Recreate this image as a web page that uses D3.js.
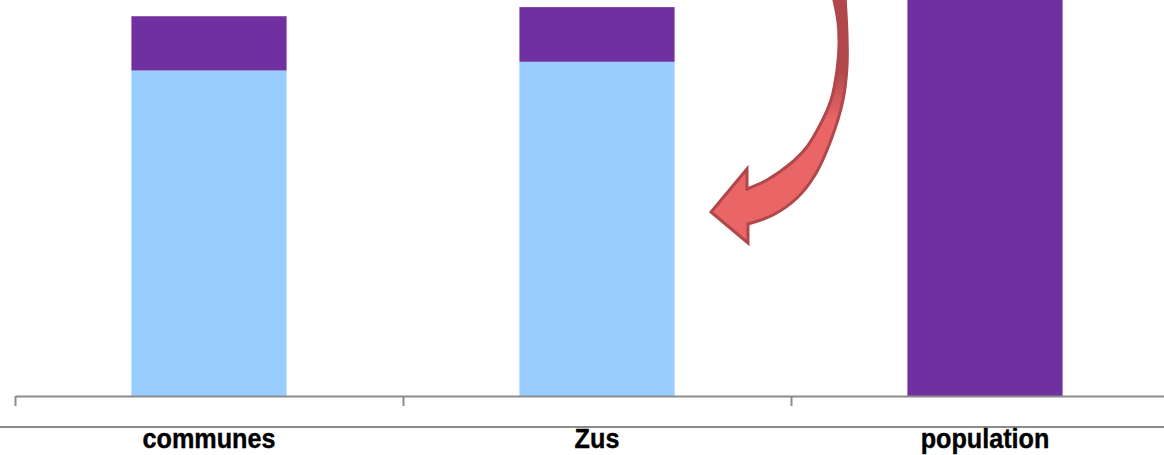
<!DOCTYPE html>
<html>
<head>
<meta charset="utf-8">
<script src="https://cdn.jsdelivr.net/npm/d3@7"></script>
<style>
  html, body { margin: 0; padding: 0; background: #fff; }
  svg { display: block; }
</style>
</head>
<body>
<svg id="chart" width="1164" height="455"></svg>
<script>
// ---- data ----
const categories = ["communes", "Zus", "population"];
const lightSeries = [82.2, 84.4, 0];
const purpleSeries = [13.7, 13.8, 101];
const seriesNames = ["light", "purple"];

// ---- layout ----
const W = 1164, H = 455;
const axisY = 396;
const svg = d3.select("#chart");

const x = d3.scaleBand().domain(categories).range([15, 1179]).paddingInner(0.6).paddingOuter(0.3);
const y = d3.scaleLinear().domain([0, 100]).range([axisY, 0]);
const color = d3.scaleOrdinal().domain(seriesNames).range(["#99ccff", "#7030a0"]);

const rows = categories.map((c, i) => ({ cat: c, light: lightSeries[i], purple: purpleSeries[i] }));
const stacked = d3.stack().keys(seriesNames)(rows);

svg.append("g").selectAll("g").data(stacked).join("g")
  .attr("fill", d => color(d.key))
  .selectAll("rect").data(d => d).join("rect")
  .attr("x", d => x(d.data.cat))
  .attr("width", x.bandwidth())
  .attr("y", d => y(d[1]))
  .attr("height", d => Math.max(0, y(d[0]) - y(d[1])));

// axis with ticks at category boundaries
const bx = d3.scaleLinear().domain([0, 3]).range([15, 1179]);
const axis = svg.append("g").attr("transform", `translate(0,${axisY})`)
  .call(d3.axisBottom(bx).tickValues([0, 1, 2, 3]).tickSize(10).tickSizeOuter(0).tickFormat(""));
axis.selectAll("path, line").attr("stroke", "#8c8c8c").attr("stroke-width", 2);

// lower rule
svg.append("line").attr("x1", 0).attr("x2", W).attr("y1", 427).attr("y2", 427)
  .attr("stroke", "#8c8c8c").attr("stroke-width", 2);

// category labels
svg.append("g").selectAll("text").data(categories).join("text")
  .attr("transform", d => `translate(${x(d) + x.bandwidth() / 2},448) scale(0.9,1)`)
  .attr("text-anchor", "middle")
  .attr("font-family", "Liberation Sans, Arial, sans-serif")
  .attr("font-weight", "bold")
  .attr("font-size", 28)
  .attr("fill", "#000")
  .attr("stroke", "#000").attr("stroke-width", 0.4)
  .text(d => d);

// curved arrow annotation
const defs = svg.append("defs");
const grad = defs.append("linearGradient").attr("id", "arrowGrad")
  .attr("gradientUnits", "userSpaceOnUse").attr("x1", 0).attr("y1", 70).attr("x2", 0).attr("y2", 120);
grad.append("stop").attr("offset", 0).attr("stop-color", "#b0484b");
grad.append("stop").attr("offset", 1).attr("stop-color", "#e96566");

const inner = [[833,-4],[838,22],[839,45],[837,70],[831,100],[820,125],[806,148],[790,164],[767,180],[747,189]];
const head = [[747,169],[711,212],[748,243],[748,224]];
const outer = [[773,215],[797,198],[815,175],[831,140],[843,100],[847,67],[847,35],[845,-4]];
const curve = d3.line().curve(d3.curveCatmullRom.alpha(0.5));
const p1 = curve(inner);
const p2 = curve([[748,224]].concat(outer));
const arrowPath = p1 + head.map(p => "L" + p[0] + "," + p[1]).join("") + p2.replace(/^M[^C]*/, "") + "Z";
svg.append("path").attr("d", arrowPath)
  .attr("fill", "url(#arrowGrad)").attr("stroke", "#b0484b").attr("stroke-width", 3)
  .attr("stroke-linejoin", "miter");
</script>
</body>
</html>
